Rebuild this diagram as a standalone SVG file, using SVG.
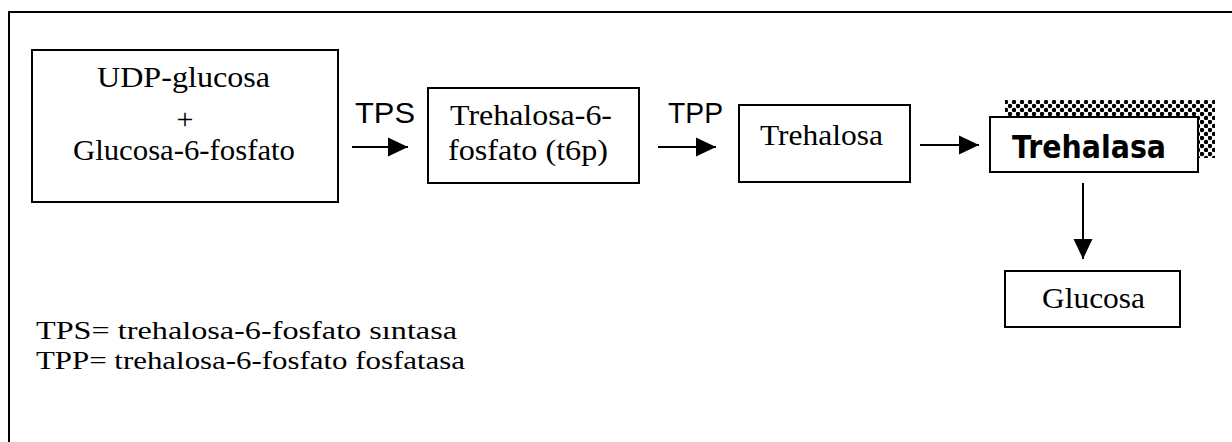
<svg xmlns="http://www.w3.org/2000/svg" width="1232" height="442" viewBox="0 0 1232 442">
  <style>
    .box { fill: #ffffff; stroke: #000000; stroke-width: 2; }
    .serif { font-family: "Liberation Serif", "Times New Roman", serif; font-size: 30px; fill: #000000; }
    .note { font-family: "Liberation Serif", "Times New Roman", serif; font-size: 26px; fill: #000000; }
    .sans { font-family: "Liberation Sans", Arial, sans-serif; font-size: 30px; fill: #000000; }
    .bold { font-family: "DejaVu Sans", Verdana, sans-serif; font-weight: bold; font-size: 32px; fill: #000000; }
    .link { stroke: #000000; stroke-width: 2; fill: none; marker-end: url(#head); }
  </style>
  <defs>
    <marker id="head" markerUnits="userSpaceOnUse" markerWidth="22" markerHeight="22" viewBox="0 0 22 22" refX="20" refY="11" orient="auto">
      <path d="M0,1.5 L20,11 L0,20.5 Z" fill="#000000"/>
    </marker>
    <!-- halftone dots for the raised shadow of the enzyme box -->
    <pattern id="dots" width="8" height="8" patternUnits="userSpaceOnUse">
      <rect width="8" height="8" fill="#ffffff"/>
      <circle cx="2" cy="2" r="2.2" fill="#000000"/>
      <circle cx="6" cy="6" r="2.2" fill="#000000"/>
    </pattern>
  </defs>

  <rect width="1232" height="442" fill="#ffffff"/>

  <!-- outer frame (open at right and bottom) -->
  <path d="M9,442 V12 H1232" fill="none" stroke="#000000" stroke-width="2"/>

  <g id="substrates">
    <rect class="box" x="32" y="50" width="306" height="152"/>
    <text class="serif" x="97" y="87" textLength="173" lengthAdjust="spacingAndGlyphs">UDP-glucosa</text>
    <text class="serif" x="185" y="129" text-anchor="middle">+</text>
    <text class="serif" x="73" y="160" textLength="222" lengthAdjust="spacingAndGlyphs">Glucosa-6-fosfato</text>
  </g>

  <g id="t6p">
    <rect class="box" x="428" y="88" width="211" height="95"/>
    <text class="serif" x="450" y="125" textLength="162" lengthAdjust="spacingAndGlyphs">Trehalosa-6-</text>
    <text class="serif" x="448" y="160" textLength="160" lengthAdjust="spacingAndGlyphs">fosfato (t6p)</text>
  </g>

  <g id="trehalosa">
    <rect class="box" x="739" y="105" width="171" height="77"/>
    <text class="serif" x="760" y="145" textLength="123" lengthAdjust="spacingAndGlyphs">Trehalosa</text>
  </g>

  <g id="trehalasa">
    <rect x="1005" y="100" width="210" height="58" fill="url(#dots)"/>
    <rect class="box" x="990" y="117" width="208" height="55"/>
    <text class="bold" x="1012" y="158" textLength="154" lengthAdjust="spacingAndGlyphs">Trehalasa</text>
  </g>

  <g id="glucosa">
    <rect class="box" x="1005" y="271" width="175" height="56"/>
    <text class="serif" x="1042" y="308" textLength="103" lengthAdjust="spacingAndGlyphs">Glucosa</text>
  </g>

  <g id="connectors">
    <line class="link" x1="352" y1="147" x2="408" y2="147"/>
    <line class="link" x1="658" y1="147" x2="716" y2="147"/>
    <line class="link" x1="920" y1="145" x2="979" y2="145"/>
    <line class="link" x1="1083" y1="183" x2="1083" y2="259"/>
    <text class="sans" x="355" y="123" textLength="60" lengthAdjust="spacingAndGlyphs">TPS</text>
    <text class="sans" x="668" y="123" textLength="55" lengthAdjust="spacingAndGlyphs">TPP</text>
  </g>

  <g id="legend">
    <text class="note" x="36" y="339" textLength="421" lengthAdjust="spacingAndGlyphs">TPS= trehalosa-6-fosfato sıntasa</text>
    <text class="note" x="36" y="369" textLength="429" lengthAdjust="spacingAndGlyphs">TPP= trehalosa-6-fosfato fosfatasa</text>
  </g>
</svg>
